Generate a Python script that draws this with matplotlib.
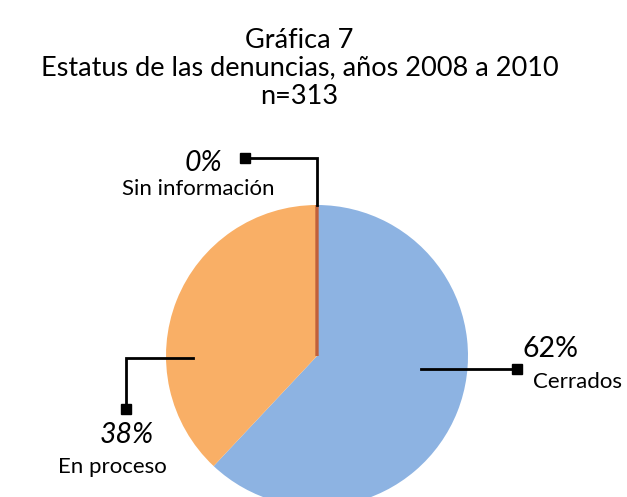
import matplotlib.pyplot as plt

W, H = 627, 497

labels = ["Cerrados", "En proceso", "Sin información"]
pct = [62, 38, 0]
colors = ["#8DB3E2", "#F9AF66", "#C0603A"]

title_lines = ["Gráfica 7", "Estatus de las denuncias, años 2008 a 2010", "n=313"]

FONT = ["Lato", "DejaVu Sans"]


def py(y):
    # image pixel row -> data y
    return H - y


fig = plt.figure(figsize=(W / 100, H / 100), dpi=100)
ax = fig.add_axes([0, 0, 1, 1])

cx, cy, r = 317, 356, 151
wedges, _ = ax.pie(pct, colors=colors, startangle=90, counterclock=False,
                   center=(cx, py(cy)), radius=r, frame=True)
for w in wedges[:2]:
    w.set_edgecolor("none")
wedges[2].set_edgecolor(colors[2])
wedges[2].set_linewidth(2.4)
ax.set_xlim(0, W)
ax.set_ylim(0, H)
ax.set_aspect("equal")
ax.axis("off")

for i, t in enumerate(title_lines):
    ax.text(W / 2 - 14, py(40 + 28 * i), t, ha="center", va="center",
            fontsize=19.5, family=FONT)

# leader lines
lk = dict(color="black", lw=2, solid_joinstyle="miter")
ax.plot([245, cx, cx], [py(158), py(158), py(cy - r)], **lk)
ax.plot([245], [py(158)], marker="s", ms=7, color="black")
ax.plot([421, 517], [py(369), py(369)], **lk)
ax.plot([517], [py(369)], marker="s", ms=7, color="black")
ax.plot([193, 126, 126], [py(358), py(358), py(409)], **lk)
ax.plot([126], [py(409)], marker="s", ms=7, color="black")

# labels
pfs, lfs = 20.5, 16
ax.text(203, py(163), f"{pct[2]}%", ha="center", va="center", fontsize=pfs,
        style="italic", family=FONT)
ax.text(198, py(189), labels[2], ha="center", va="center", fontsize=lfs, family=FONT)

ax.text(550, py(349), f"{pct[0]}%", ha="center", va="center", fontsize=pfs,
        family=FONT)
ax.text(577, py(382), labels[0], ha="center", va="center", fontsize=lfs, family=FONT)

ax.text(127, py(435), f"{pct[1]}%", ha="center", va="center", fontsize=pfs,
        style="italic", family=FONT)
ax.text(112, py(467), labels[1], ha="center", va="center", fontsize=lfs, family=FONT)

fig.savefig("out.png", dpi=100)
